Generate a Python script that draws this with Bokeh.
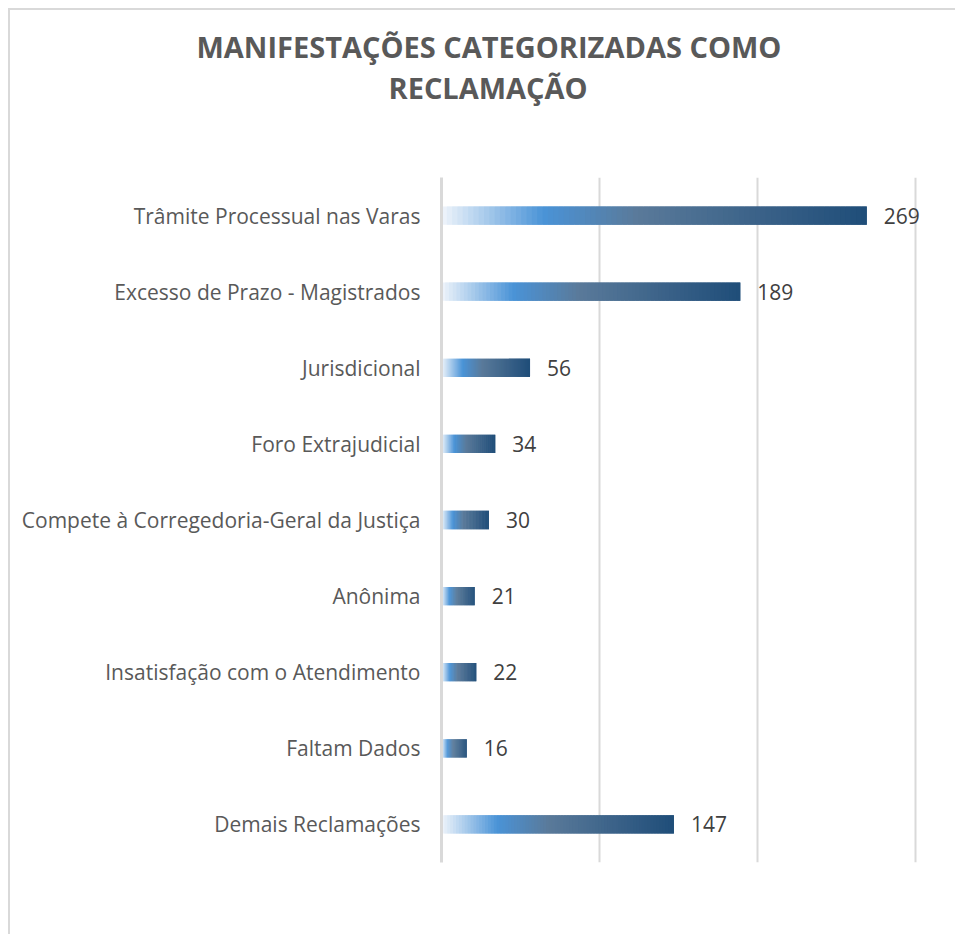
import numpy as np
from bokeh.plotting import figure
from bokeh.core.properties import value
from bokeh.models import ColumnDataSource, LabelSet, FactorRange, FixedTicker, Title
from bokeh.embed import file_html
from bokeh.resources import INLINE

categories = [
    "Trâmite Processual nas Varas",
    "Excesso de Prazo - Magistrados",
    "Jurisdicional",
    "Foro Extrajudicial",
    "Compete à Corregedoria-Geral da Justiça",
    "Anônima",
    "Insatisfação com o Atendimento",
    "Faltam Dados",
    "Demais Reclamações",
]
values = [269, 189, 56, 34, 30, 21, 22, 16, 147]
x_ticks = [0, 100, 200, 300]
title_lines = ["MANIFESTAÇÕES CATEGORIZADAS COMO", "RECLAMAÇÃO"]

FONT = "Open Sans"
W, H = 947, 926

p = figure(width=W, height=H, y_range=FactorRange(*reversed(categories), range_padding=0),
           x_range=(0, 315), output_backend="svg", toolbar_location=None,
           min_border_left=431, min_border_right=18, min_border_top=167, min_border_bottom=74)
p.outline_line_color = None
p.styles = {"margin-left": "8px", "margin-top": "8px",
            "border-left": "2px solid #d9d9d9", "border-top": "2px solid #d9d9d9"}

# gradient bars built from slices
stops = np.array([0.0, 0.24, 0.46, 1.0])
cols = np.array([[0xf0, 0xf5, 0xfb], [0x4a, 0x93, 0xd7], [0x5a, 0x7a, 0x9a], [0x1f, 0x4d, 0x79]], dtype=float)
N = 80
lefts, rights, ys, fills = [], [], [], []
for c, v in zip(categories, values):
    for i in range(N):
        f = (i + 0.5) / N
        rgb = [np.interp(f, stops, cols[:, k]) for k in range(3)]
        lefts.append(v * i / N)
        rights.append(v * min(i + 2, N) / N)
        ys.append(c)
        fills.append("#%02x%02x%02x" % tuple(int(round(x)) for x in rgb))
src = ColumnDataSource(dict(left=lefts, right=rights, y=ys, fill=fills))
p.hbar(y="y", left="left", right="right", height=0.24, fill_color="fill", line_color=None, source=src)

lab_src = ColumnDataSource(dict(x=values, y=categories, t=[str(v) for v in values]))
p.add_layout(LabelSet(x="x", y="y", text="t", source=lab_src, x_offset=17, text_baseline="middle",
                      text_align="left", text_font=value(FONT), text_font_size="21px", text_color="#404040"))

p.xaxis.visible = False
p.xaxis.ticker = FixedTicker(ticks=x_ticks)
p.xgrid.grid_line_color = "#d9d9d9"
p.xgrid.grid_line_width = 2
p.ygrid.grid_line_color = None

ax = p.yaxis[0]
ax.axis_line_color = "#d9d9d9"
ax.axis_line_width = 3
ax.major_tick_line_color = None
ax.minor_tick_line_color = None
ax.major_label_standoff = 15
ax.major_label_text_font = FONT
ax.major_label_text_font_size = "21px"
ax.major_label_text_color = "#595959"

# spacer between frame and title, then the two title lines (added nearest-first)
p.add_layout(Title(text=" ", standoff=68, text_font_size="1px"), "above")
p.add_layout(Title(text=title_lines[1], align="left", offset=-53, standoff=0, text_font=FONT,
                   text_font_style="bold", text_font_size="29px", text_color="#595959"), "above")
p.add_layout(Title(text=title_lines[0], align="left", offset=-245, standoff=0, text_font=FONT,
                   text_font_style="bold", text_font_size="29px", text_color="#595959"), "above")

open("out.html", "w").write(file_html(p, INLINE))
